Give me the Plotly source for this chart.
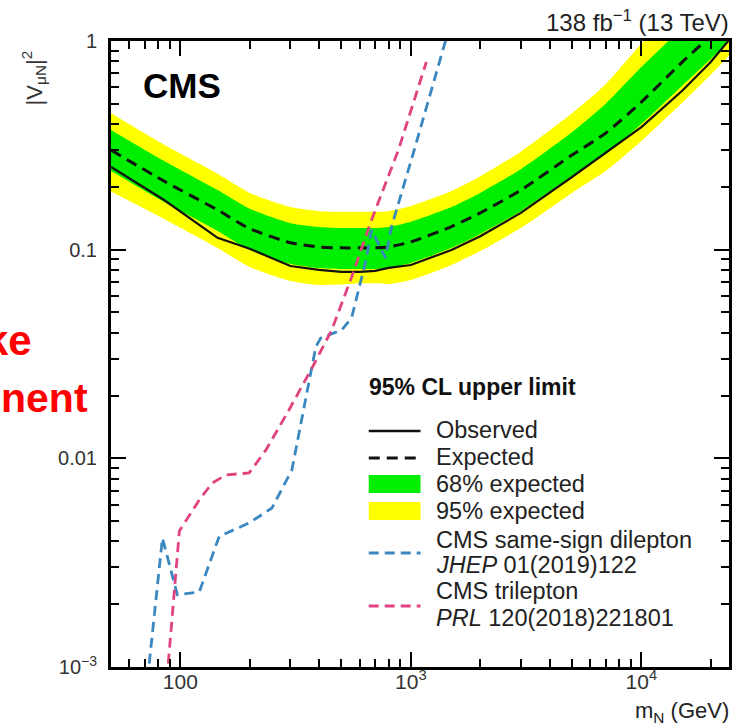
import plotly.graph_objects as go
import math

# ---------------- data ----------------
mass_band = [50, 85, 145, 200, 300, 400, 500, 600, 700, 800, 1000, 1500,
             2000, 3000, 5000, 7000, 10000, 15000, 20000, 24000]
expected = [0.300, 0.213, 0.155, 0.126, 0.108, 0.103, 0.102, 0.102, 0.102, 0.103,
            0.109, 0.129, 0.150, 0.193, 0.284, 0.362, 0.510, 0.790, 1.06, 1.30]
observed = [0.249, 0.173, 0.114, 0.101, 0.0835, 0.080, 0.0783, 0.0783, 0.0791, 0.0818,
            0.0844, 0.0997, 0.116, 0.150, 0.223, 0.291, 0.387, 0.576, 0.793, 1.01]
green_hi = [0.375, 0.266, 0.193, 0.157, 0.134, 0.1285, 0.127, 0.127, 0.127, 0.1285,
            0.136, 0.160, 0.187, 0.243, 0.365, 0.500, 0.750, 1.15, 1.50, 1.80]
green_lo = [0.238, 0.169, 0.123, 0.0997, 0.0854, 0.0817, 0.0808, 0.0808, 0.0808, 0.0817,
            0.0864, 0.102, 0.119, 0.153, 0.226, 0.287, 0.400, 0.609, 0.820, 1.0]
yellow_hi = [0.450, 0.318, 0.231, 0.187, 0.160, 0.153, 0.152, 0.152, 0.152, 0.153,
             0.162, 0.191, 0.225, 0.295, 0.450, 0.620, 0.970, 1.50, 2.00, 2.40]
yellow_lo = [0.190, 0.1404, 0.1019, 0.0826, 0.0708, 0.0678, 0.068, 0.069, 0.069, 0.0685,
             0.0716, 0.0845, 0.0986, 0.127, 0.187, 0.238, 0.332, 0.505, 0.690, 0.850]

mass_ss = [72.4, 73.5, 83.6, 97.0, 120.8, 147.4, 198.7, 249.7, 304.6, 317.0, 386.8,
           406.0, 501.0, 553.0, 636.0, 675.0, 776.0, 824.0, 1025.0, 1420.0]
y_ss = [0.00087, 0.00108, 0.00415, 0.00222, 0.00229, 0.00423, 0.0049, 0.00578, 0.0088,
        0.01097, 0.0342, 0.0377, 0.0412, 0.0471, 0.0873, 0.1243, 0.0912, 0.1285, 0.2906, 1.02]

mass_tri = [87.4, 88.8, 99.0, 106.2, 120.8, 137.5, 158.0, 198.7, 235.2, 295.8, 371.7,
            453.5, 553.4, 675.1, 883.0, 1167.0]
y_tri = [0.00087, 0.00108, 0.00449, 0.00507, 0.00632, 0.00762, 0.00833, 0.00851, 0.01097,
         0.01705, 0.027, 0.0412, 0.074, 0.1388, 0.3004, 0.793]

x_tickvals = [100, 1000, 10000]
x_ticktext = ["100", "10<sup>3</sup>", "10<sup>4</sup>"]
y_tickvals = [0.001, 0.01, 0.1, 1]
y_ticktext = ["10<sup>\u22123</sup>", "0.01", "0.1", "1"]

legend_labels = ["Observed", "Expected", "68% expected", "95% expected",
                 "CMS same-sign dilepton", "<i>JHEP</i> 01(2019)122",
                 "CMS trilepton", "<i>PRL</i> 120(2018)221801"]

# ---------------- styling ----------------
FONT = "Liberation Sans, Arial, Helvetica, sans-serif"
GREEN = "rgb(0,238,0)"
YELLOW = "rgb(255,255,0)"
BLUE = "#3a88bf"
PINK = "#e0437f"

W, H = 737, 725
L, R, T, B = 111, 5, 41, 58
PW, PH = W - L - R, H - T - B


def px(xpix):
    return (xpix - L) / PW


def py(ypix):
    return (H - B - ypix) / PH


fig = go.Figure()
band_line = dict(width=0, shape="spline", smoothing=0.6)

# 95% band
fig.add_trace(go.Scatter(x=mass_band, y=yellow_hi, mode="lines", line=dict(color=YELLOW, **band_line),
                         showlegend=False, hoverinfo="skip"))
fig.add_trace(go.Scatter(x=mass_band, y=yellow_lo, mode="lines", line=dict(color=YELLOW, **band_line),
                         fill="tonexty", fillcolor=YELLOW, showlegend=False, hoverinfo="skip"))
# 68% band
fig.add_trace(go.Scatter(x=mass_band, y=green_hi, mode="lines", line=dict(color=GREEN, **band_line),
                         showlegend=False, hoverinfo="skip"))
fig.add_trace(go.Scatter(x=mass_band, y=green_lo, mode="lines", line=dict(color=GREEN, **band_line),
                         fill="tonexty", fillcolor=GREEN, showlegend=False, hoverinfo="skip"))
# expected / observed
fig.add_trace(go.Scatter(x=mass_band, y=expected, mode="lines",
                         line=dict(color="#111", width=3, dash="11px,7px", shape="spline", smoothing=0.6),
                         showlegend=False))
fig.add_trace(go.Scatter(x=mass_band, y=observed, mode="lines",
                         line=dict(color="#111", width=2.2), showlegend=False))
# previous results
fig.add_trace(go.Scatter(x=mass_ss, y=y_ss, mode="lines",
                         line=dict(color=BLUE, width=2.8, dash="10px,6px"), showlegend=False))
fig.add_trace(go.Scatter(x=mass_tri, y=y_tri, mode="lines",
                         line=dict(color=PINK, width=2.8, dash="10px,6px"), showlegend=False))

x_minor = [50, 60, 70, 80, 90, 200, 300, 400, 500, 600, 700, 800, 900,
           2000, 3000, 4000, 5000, 6000, 7000, 8000, 9000, 20000]
y_minor = [m * 10 ** e for e in (-3, -2, -1) for m in range(2, 10)]

fig.update_xaxes(type="log", range=[math.log10(50), math.log10(24000)],
                 tickmode="array", tickvals=x_tickvals, ticktext=x_ticktext,
                 ticks="inside", ticklen=15, tickwidth=2, tickcolor="black",
                 showline=True, linewidth=3, linecolor="black", mirror="allticks",
                 showgrid=False, zeroline=False, ticklabelstandoff=-6,
                 tickfont=dict(family=FONT, size=21, color="#333"),
                 minor=dict(tickmode="array", tickvals=x_minor, ticks="inside",
                            ticklen=8, tickwidth=2, tickcolor="black", showgrid=False))
fig.update_yaxes(type="log", range=[-3, 0],
                 tickmode="array", tickvals=y_tickvals, ticktext=y_ticktext,
                 ticks="inside", ticklen=15, tickwidth=2, tickcolor="black",
                 showline=True, linewidth=3, linecolor="black", mirror="allticks",
                 showgrid=False, zeroline=False, ticklabelstandoff=7,
                 tickfont=dict(family=FONT, size=20, color="#333"),
                 minor=dict(tickmode="array", tickvals=y_minor, ticks="inside",
                            ticklen=8, tickwidth=2, tickcolor="black", showgrid=False))

ann = []


def text(xp, yp, s, size, xanchor="left", yanchor="middle", color="#222", bold=False, angle=0):
    ann.append(dict(x=xp, y=yp, xref="paper", yref="paper", text=s, showarrow=False,
                    xanchor=xanchor, yanchor=yanchor, textangle=angle,
                    font=dict(family=FONT, size=size, color=color,
                              weight="bold" if bold else "normal")))


text(px(734), py(21), "138 fb<sup>\u22121</sup> (13 TeV)", 24, xanchor="right", color="#222")
text(px(734), py(712), "m<sub>N</sub> (GeV)", 22, xanchor="right", color="#222")
text(px(33), py(78), "|V<sub>\u03bcN</sub>|<sup>2</sup>", 22, xanchor="center", yanchor="middle",
     color="#333", angle=-90)
text(px(141), py(85), "CMS", 35, bold=True, color="black")
text(px(34), py(340), "ke", 42, xanchor="right", color="#ff0000", bold=True)
text(px(-2), py(398), "nent", 41, xanchor="left", color="#ff0000", bold=True)

# legend
text(px(368), py(387), "95% CL upper limit", 23, bold=True, color="#111")
ly = [430, 457, 484, 511, 540, 565, 591, 618]
for lab, yy in zip(legend_labels, ly):
    text(px(436), py(yy), lab, 23.5, color="#222")

shapes = []
x0l, x1l = px(370), px(422)
shapes.append(dict(type="line", xref="paper", yref="paper", x0=x0l, x1=x1l, y0=py(431), y1=py(431),
                   line=dict(color="#111", width=2.6)))
shapes.append(dict(type="line", xref="paper", yref="paper", x0=x0l, x1=x1l, y0=py(458), y1=py(458),
                   line=dict(color="#111", width=3, dash="11px,7px")))
shapes.append(dict(type="rect", xref="paper", yref="paper", x0=x0l, x1=x1l, y0=py(493), y1=py(475),
                   line=dict(width=0), fillcolor=GREEN))
shapes.append(dict(type="rect", xref="paper", yref="paper", x0=x0l, x1=x1l, y0=py(520), y1=py(502),
                   line=dict(width=0), fillcolor=YELLOW))
shapes.append(dict(type="line", xref="paper", yref="paper", x0=x0l, x1=x1l, y0=py(553), y1=py(553),
                   line=dict(color=BLUE, width=2.8, dash="10px,6px")))
shapes.append(dict(type="line", xref="paper", yref="paper", x0=x0l, x1=x1l, y0=py(606), y1=py(606),
                   line=dict(color=PINK, width=2.8, dash="10px,6px")))

fig.update_layout(width=W, height=H, margin=dict(l=L, r=R, t=T, b=B),
                  paper_bgcolor="white", plot_bgcolor="white",
                  annotations=ann, shapes=shapes, showlegend=False)

fig.write_html("out.html", config={"displayModeBar": False},
               post_script="document.body.style.margin='0px';document.body.style.overflow='hidden';")
